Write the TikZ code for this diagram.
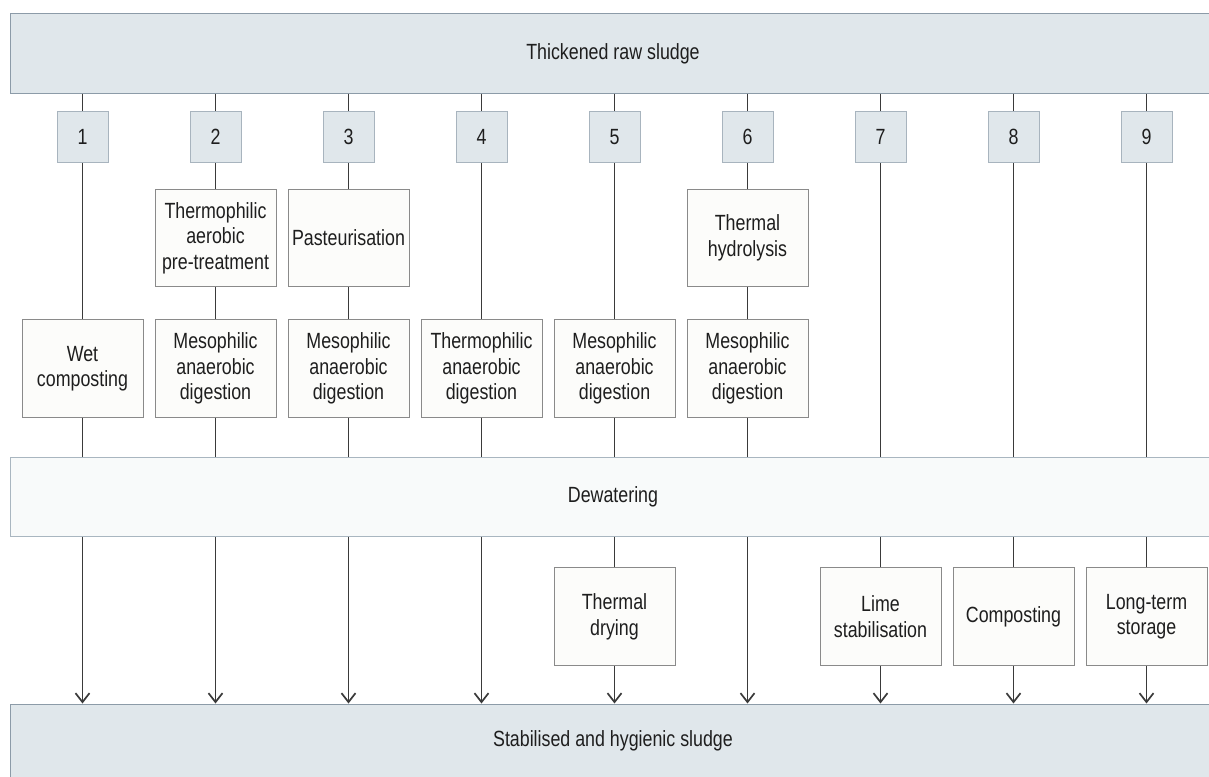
\documentclass[tikz,border=0pt]{standalone}
\usepackage{fontspec}
\setmainfont[FakeStretch=0.81]{Liberation Sans}
\usetikzlibrary{arrows.meta}
\definecolor{bandfill}{HTML}{E0E7EB}
\definecolor{banddraw}{HTML}{8C9BA8}
\definecolor{numdraw}{HTML}{A8B4BE}
\definecolor{dewfill}{HTML}{F8FAFA}
\definecolor{dewdraw}{HTML}{A9B6C0}
\definecolor{procfill}{HTML}{FCFCFA}
\definecolor{procdraw}{HTML}{8A8A8A}
\definecolor{linecol}{HTML}{3A3A3A}
\definecolor{txt}{HTML}{1E1E1E}
\tikzset{
  txtstyle/.style={text=txt, font=\fontsize{22}{25.5}\selectfont, align=center, inner sep=0pt},
  band/.style={txtstyle, fill=bandfill, draw=banddraw, line width=1pt, minimum width=1206pt, minimum height=79pt},
  dewband/.style={txtstyle, fill=dewfill, draw=dewdraw, line width=1pt, minimum width=1206pt, minimum height=78.5pt},
  numbox/.style={txtstyle, fill=bandfill, draw=numdraw, line width=1pt, minimum width=51pt, minimum height=51pt},
  procbox/.style={txtstyle, fill=procfill, draw=procdraw, line width=0.9pt, minimum width=121pt, minimum height=97.5pt},
  conn/.style={draw=linecol, line width=1.3pt},
  arr/.style={conn, -{Straight Barb[length=9pt,width=14pt,line width=1.7pt]}}
}
\begin{document}
\begin{tikzpicture}[x=1pt,y=-1pt]
\useasboundingbox (0,0) rectangle (1209,776);
\fill[white] (0,0) rectangle (1209,776);
% bands
\node[band] (top) at (613,53.5) {Thickened raw sludge};
\node[dewband] (dew) at (613,496.75) {Dewatering};
\node[band, minimum height=73pt] (bot) at (613,740.5) {Stabilised and hygienic sludge};
% number boxes
\node[numbox] (n1) at (82.5,137.3) {1};
\node[numbox] (n2) at (215.5,137.3) {2};
\node[numbox] (n3) at (348.5,137.3) {3};
\node[numbox] (n4) at (481.5,137.3) {4};
\node[numbox] (n5) at (614.5,137.3) {5};
\node[numbox] (n6) at (747.5,137.3) {6};
\node[numbox] (n7) at (880.5,137.3) {7};
\node[numbox] (n8) at (1013.5,137.3) {8};
\node[numbox] (n9) at (1146.5,137.3) {9};
% row A
\node[procbox] (a2) at (215.5,238) {Thermophilic\\aerobic\\pre-treatment};
\node[procbox] (a3) at (348.5,238) {Pasteurisation};
\node[procbox] (a6) at (747.5,238) {Thermal\\hydrolysis};
% row B
\node[procbox] (b1) at (82.5,368.5) {Wet\\composting};
\node[procbox] (b2) at (215.5,368.5) {Mesophilic\\anaerobic\\digestion};
\node[procbox] (b3) at (348.5,368.5) {Mesophilic\\anaerobic\\digestion};
\node[procbox] (b4) at (481.5,368.5) {Thermophilic\\anaerobic\\digestion};
\node[procbox] (b5) at (614.5,368.5) {Mesophilic\\anaerobic\\digestion};
\node[procbox] (b6) at (747.5,368.5) {Mesophilic\\anaerobic\\digestion};
% row C
\node[procbox, minimum height=98pt] (c5) at (614.5,616.7) {Thermal\\drying};
\node[procbox, minimum height=98pt] (c7) at (880.5,616.7) {Lime\\stabilisation};
\node[procbox, minimum height=98pt] (c8) at (1013.5,616.7) {Composting};
\node[procbox, minimum height=98pt] (c9) at (1146.5,616.7) {Long-term\\storage};
% connectors: top to numbers
\foreach \n in {n1,n2,n3,n4,n5,n6,n7,n8,n9}{
  \draw[conn] (top.south -| \n) -- (\n.north);
}
% column 1
\draw[conn] (n1.south) -- (b1.north);
\draw[conn] (b1.south) -- (dew.north -| b1);
\draw[arr] (dew.south -| n1) -- (bot.north -| n1);
% column 2
\draw[conn] (n2.south) -- (a2.north);
\draw[conn] (a2.south) -- (b2.north);
\draw[conn] (b2.south) -- (dew.north -| b2);
\draw[arr] (dew.south -| n2) -- (bot.north -| n2);
% column 3
\draw[conn] (n3.south) -- (a3.north);
\draw[conn] (a3.south) -- (b3.north);
\draw[conn] (b3.south) -- (dew.north -| b3);
\draw[arr] (dew.south -| n3) -- (bot.north -| n3);
% column 4
\draw[conn] (n4.south) -- (b4.north);
\draw[conn] (b4.south) -- (dew.north -| b4);
\draw[arr] (dew.south -| n4) -- (bot.north -| n4);
% column 5
\draw[conn] (n5.south) -- (b5.north);
\draw[conn] (b5.south) -- (dew.north -| b5);
\draw[conn] (dew.south -| c5) -- (c5.north);
\draw[arr] (c5.south) -- (bot.north -| c5);
% column 6
\draw[conn] (n6.south) -- (a6.north);
\draw[conn] (a6.south) -- (b6.north);
\draw[conn] (b6.south) -- (dew.north -| b6);
\draw[arr] (dew.south -| n6) -- (bot.north -| n6);
% columns 7-9
\foreach \k in {7,8,9}{
  \draw[conn] (n\k.south) -- (dew.north -| n\k);
  \draw[conn] (dew.south -| c\k) -- (c\k.north);
  \draw[arr] (c\k.south) -- (bot.north -| c\k);
}
\end{tikzpicture}
\end{document}
